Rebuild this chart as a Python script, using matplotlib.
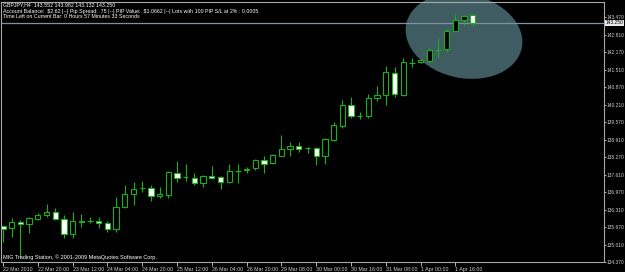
import matplotlib
matplotlib.use('Agg')
import matplotlib.pyplot as plt
from matplotlib.patches import Rectangle, Ellipse
from matplotlib.transforms import IdentityTransform, blended_transform_factory
import numpy as np

# ---- data (GBPJPY H4) ----
opens = [135.71, 135.63, 135.87, 135.78, 135.97, 136.12, 136.23, 135.97, 135.41, 135.87,
         135.89, 135.89, 135.82, 135.60, 136.41, 136.90, 137.12, 137.12, 136.82, 136.86,
         137.68, 137.53, 137.49, 137.30, 137.56, 137.53, 137.34, 137.75, 137.77, 137.86,
         138.16, 138.05, 138.31, 138.57, 138.68, 138.61, 138.61, 138.31, 138.90, 139.42,
         140.20, 139.79, 139.79, 140.46, 140.57, 141.39, 140.57, 141.76, 141.80, 141.84,
         142.25, 142.28, 142.95, 143.36, 143.552]
highs = [135.74, 136.00, 135.93, 136.04, 136.19, 136.52, 136.38, 136.12, 136.23, 136.15,
         136.04, 136.04, 135.89, 136.78, 137.23, 137.34, 137.38, 137.23, 137.16, 137.75,
         138.12, 138.01, 137.68, 137.60, 137.94, 137.56, 138.01, 138.01, 137.90, 138.20,
         138.31, 138.37, 139.09, 138.83, 138.83, 138.64, 138.64, 138.96, 139.57, 140.39,
         140.50, 139.94, 140.61, 140.91, 141.65, 141.61, 141.95, 141.95, 141.91, 142.32,
         142.69, 143.03, 143.58, 143.53, 143.60]
lows = [135.11, 135.30, 134.52, 135.45, 135.93, 136.04, 135.93, 135.26, 135.26, 135.67,
        135.82, 135.63, 135.48, 135.48, 136.38, 136.49, 136.97, 136.64, 136.75, 136.75,
        137.34, 137.38, 137.23, 137.16, 137.47, 137.08, 137.32, 137.30, 137.68, 137.79,
        137.68, 138.01, 138.29, 138.31, 138.46, 138.42, 137.97, 138.01, 138.88, 139.35,
        139.72, 139.68, 139.72, 140.35, 140.20, 140.50, 140.55, 141.61, 141.78, 141.76,
        141.95, 142.17, 142.93, 143.17, 143.132]
closes = [135.60, 135.86, 135.80, 136.00, 136.12, 136.23, 135.97, 135.41, 135.89, 135.89,
          135.90, 135.82, 135.60, 136.41, 136.90, 137.08, 137.11, 136.82, 136.88, 137.71,
          137.49, 137.52, 137.30, 137.56, 137.49, 137.34, 137.75, 137.76, 137.81, 138.16,
          138.01, 138.35, 138.57, 138.68, 138.57, 138.62, 138.31, 138.94, 139.46, 140.20,
          139.79, 139.80, 140.46, 140.57, 141.43, 140.61, 141.80, 141.77, 141.87, 142.25,
          142.26, 142.95, 143.36, 143.51, 143.250]

x_labels = ['22 Mar 2010', '22 Mar 20:00', '23 Mar 12:00', '24 Mar 04:00', '24 Mar 20:00',
            '25 Mar 12:00', '26 Mar 04:00', '26 Mar 20:00', '29 Mar 08:00', '30 Mar 00:00',
            '30 Mar 16:00', '31 Mar 08:00', '1 Apr 00:00', '1 Apr 16:00']
label_every = 4
y_ticks = [143.470, 142.810, 142.170, 141.510, 140.870, 140.210, 139.570, 138.910,
           138.270, 137.610, 136.970, 136.310, 135.670, 135.010, 134.370]
bid = 143.250

header = ["GBPJPY,H4  143.552 143.982 143.132 143.250",
          "Account Balance:  \\$2.62 |--| Pip Spread:  75 |--| PIP Value:  \\$1.0662 |--| Lots with 100 PIP S/L at 2% : 0.0005",
          "Time Left on Current Bar: 0 Hours 57 Minutes 33 Seconds"]
footer = "MIG Trading Station, \u00a9 2001-2009 MetaQuotes Software Corp."

# ---- styling ----
plt.rcParams['font.family'] = ['Liberation Sans', 'DejaVu Sans']
GREEN = '#19b019'
TXT = '#d0d0d0'
FS = 3.8
W, H = 625, 272

fig = plt.figure(figsize=(W / 100, H / 100), dpi=100, facecolor='black')
ax = fig.add_axes([1 / W, 10 / H, 603 / W, 260 / H])
ax.set_facecolor('black')

n = len(opens)
bar_px = 8.7
x0 = -2 / bar_px
ax.set_xlim(x0, x0 + 603 / bar_px)
ax.set_ylim(134.37, 134.37 + 260 / 26.92)

# highlight ellipse (pixel coords), behind the candles
ell = Ellipse((464, H - 36), 118, 84, angle=-12, transform=IdentityTransform(),
              facecolor='#3e5c62', edgecolor='none', zorder=1, clip_on=False)
ax.add_artist(ell)

# bid line
ax.axhline(bid, color='#8090a0', lw=0.9, zorder=2)

bw = 0.62
for i in range(n):
    o, h, l, c = opens[i], highs[i], lows[i], closes[i]
    ax.vlines(i, l, h, color=GREEN, lw=0.8, zorder=3)
    bottom = min(o, c)
    height = max(abs(c - o), 0.004)
    fc = 'black' if c >= o else 'white'
    ax.add_patch(Rectangle((i - bw / 2, bottom), bw, height, facecolor=fc,
                           edgecolor=GREEN, lw=0.8, zorder=4))

# axes frame
for s in ax.spines.values():
    s.set_color('#a8a8a8')
    s.set_linewidth(0.8)
    s.set_zorder(5)

ax.yaxis.tick_right()
ax.set_yticks(y_ticks)
ax.set_yticklabels([f'{v:.3f}' for v in y_ticks])
ax.tick_params(axis='y', colors=TXT, labelsize=3.5, length=1.5, width=0.6, pad=0.4)

xt = list(range(0, label_every * len(x_labels), label_every))
ax.set_xticks(xt)
ax.set_xticklabels(x_labels)
ax.tick_params(axis='x', colors=TXT, labelsize=FS, length=3, width=0.6, pad=0.5)
for lab in ax.get_xticklabels():
    lab.set_horizontalalignment('left')

# bid price box on the right
tr = blended_transform_factory(ax.transAxes, ax.transData)
ax.text(1.002, bid, f'{bid:.3f}', transform=tr, ha='left', va='center', fontsize=3.5,
        color='black', bbox=dict(boxstyle='square,pad=0.12', facecolor='#e8e8e8',
                                 edgecolor='none'), zorder=6, clip_on=False)

# header & footer text
for k, line in enumerate(header):
    fig.text(3 / W, 1 - (5 + 6 * k) / H, line, color='white', fontsize=FS,
             ha='left', va='center', zorder=7)
fig.text(3 / W, (H - 257) / H, footer, color='white', fontsize=4.0, ha='left', va='center')

fig.savefig('out.png', dpi=100, facecolor='black')
